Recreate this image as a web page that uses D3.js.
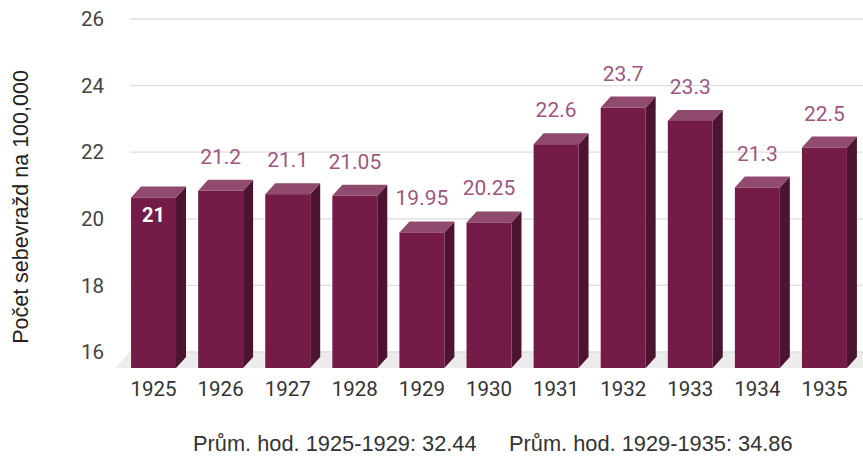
<!DOCTYPE html>
<html><head><meta charset="utf-8">
<script src="https://cdn.jsdelivr.net/npm/d3@7"></script>
<style>body{margin:0;background:#fff}svg{display:block}</style>
</head><body><svg id="c" width="863" height="457"></svg>
<script>
const years = ["1925","1926","1927","1928","1929","1930","1931","1932","1933","1934","1935"];
const values = [21, 21.2, 21.1, 21.05, 19.95, 20.25, 22.6, 23.7, 23.3, 21.3, 22.5];
const labels = ["21","21.2","21.1","21.05","19.95","20.25","22.6","23.7","23.3","21.3","22.5"];
const yTicks = [16, 18, 20, 22, 24, 26];
const yTitle = "Počet sebevražd na 100,000";
const notes = ["Prům. hod. 1925-1929: 32.44", "Prům. hod. 1929-1935: 34.86"];

const svg = d3.select("#c");
const y = d3.scaleLinear().domain([16, 26]).range([352, 19]);
const x = d3.scaleBand().domain(years).range([120, 858]).paddingInner(0.33).paddingOuter(0.165);
const backX0 = 130, backX1 = 863;
const fdx = 15, fdy = 16;   // floor depth
const bdx = 10, bdy = 11;   // bar depth
const frontOff = 12;
const floorFront = y(16) + fdy;

// floor
svg.append("polygon")
  .attr("points", [[backX0 - fdx, floorFront], [backX0, y(16)], [backX1, y(16)], [backX1, floorFront]].map(p => p.join(",")).join(" "))
  .attr("fill", "#ececec");

// gridlines
svg.append("g").selectAll("line").data(yTicks).join("line")
  .attr("x1", backX0).attr("x2", backX1)
  .attr("y1", d => y(d)).attr("y2", d => y(d))
  .attr("stroke", "#dedede").attr("stroke-width", 1.3);

// y tick labels
svg.append("g").selectAll("text").data(yTicks).join("text")
  .attr("x", 104).attr("y", d => y(d)).attr("dy", "0.35em")
  .attr("text-anchor", "end")
  .attr("font-family", "Roboto").attr("font-size", 20.5).attr("fill", "#444")
  .text(d => d);

// bars
const bars = svg.append("g").selectAll("g").data(years.map((yr, i) => ({yr, v: values[i], l: labels[i], i}))).join("g");
bars.each(function(d) {
  const g = d3.select(this);
  const x0 = x(d.yr), w = x.bandwidth();
  const top = y(d.v) + frontOff, bot = floorFront;
  g.append("polygon").attr("fill", "#4c1431")
    .attr("points", [[x0 + w, top], [x0 + w + bdx, top - bdy], [x0 + w + bdx, bot - bdy], [x0 + w, bot]].map(p => p.join(",")).join(" "));
  g.append("polygon").attr("fill", "#8f4a6d")
    .attr("points", [[x0, top], [x0 + w, top], [x0 + w + bdx, top - bdy], [x0 + bdx, top - bdy]].map(p => p.join(",")).join(" "));
  g.append("rect").attr("x", x0).attr("y", top).attr("width", w).attr("height", bot - top).attr("fill", "#741b47");
  if (d.i === 0) {
    g.append("text").attr("x", x0 + w / 2).attr("y", top + 24)
      .attr("text-anchor", "middle").attr("font-family", "Roboto").attr("font-weight", "bold")
      .attr("font-size", 20).attr("fill", "#fff").text(d.l);
  } else {
    g.append("text").attr("x", x0 + w / 2).attr("y", y(d.v) - 15)
      .attr("text-anchor", "middle").attr("font-family", "Roboto")
      .attr("font-size", 21).attr("fill", "#a0567f").text(d.l);
  }
});

// x labels
svg.append("g").selectAll("text").data(years).join("text")
  .attr("x", d => x(d) + x.bandwidth() / 2).attr("y", 396)
  .attr("text-anchor", "middle")
  .attr("font-family", "Roboto").attr("font-size", 20.5).attr("fill", "#333")
  .text(d => d);

// y title
svg.append("text")
  .attr("transform", "translate(28,207) rotate(-90)")
  .attr("text-anchor", "middle")
  .attr("font-family", "Liberation Sans, Arial").attr("font-size", 21.5).attr("fill", "#222")
  .text(yTitle);

// notes
svg.append("text").attr("x", 193).attr("y", 451)
  .attr("font-family", "Liberation Sans, Arial").attr("font-size", 21.8).attr("fill", "#333").text(notes[0]);
svg.append("text").attr("x", 509).attr("y", 451)
  .attr("font-family", "Liberation Sans, Arial").attr("font-size", 21.8).attr("fill", "#333").text(notes[1]);
</script></body></html>
